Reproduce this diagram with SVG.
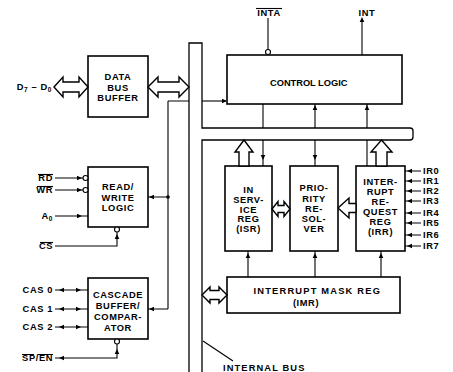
<svg xmlns="http://www.w3.org/2000/svg" width="453" height="372" viewBox="0 0 453 372">
<style>
.box{fill:#fff;stroke:#000;stroke-width:1.6}
.ln{fill:none;stroke:#000;stroke-width:1.1}
.bus{fill:#fff;stroke:#000;stroke-width:1.3}
.ha{fill:#fff;stroke:#000;stroke-width:1.4;stroke-linejoin:miter}
.bub{fill:#fff;stroke:#000;stroke-width:1.1}
.dot{fill:#000}
.t{font-family:"Liberation Sans",Arial,Helvetica,sans-serif;font-weight:bold;font-size:9.3px;fill:#000;text-anchor:middle;letter-spacing:0.6px}
.r{text-anchor:end}
.s{text-anchor:start}
.sub{font-size:6.5px}
</style>
<defs>
<path id="ah" d="M0,0 L-5,-2.3 L-5,2.3 Z" fill="#000"/>
</defs>
<rect width="453" height="372" fill="#fff"/>

<g id="internal-bus">
<path class="bus" d="M189,372 L189,43 L202,43 L202,128 L410,128 Q413,128 413,131 L413,137 Q413,140 410,140 L202,140 L202,372"/>
</g>

<g id="data-bus-buffer">
<rect class="box" x="88" y="56" width="60" height="61"/>
<text class="t" x="118" y="79.5">DATA</text>
<text class="t" x="118" y="90.5">BUS</text>
<text class="t" x="118" y="100.5">BUFFER</text>
</g>

<g id="read-write-logic">
<rect class="box" x="88" y="167" width="60" height="60"/>
<text class="t" x="118" y="189.5">READ/</text>
<text class="t" x="118" y="200.5">WRITE</text>
<text class="t" x="118" y="210.5">LOGIC</text>
</g>

<g id="cascade-buffer-comparator">
<rect class="box" x="88" y="278" width="60" height="61"/>
<text class="t" x="118" y="297.5">CASCADE</text>
<text class="t" x="118" y="308.5">BUFFER/</text>
<text class="t" x="118" y="319.5">COMPAR-</text>
<text class="t" x="118" y="330.5">ATOR</text>
</g>

<g id="control-logic">
<rect class="box" x="227" y="55" width="175" height="49"/>
<text class="t" x="309" y="85.5" textLength="78">CONTROL LOGIC</text>
</g>

<g id="in-service-reg">
<rect class="box" x="225" y="166" width="47" height="85"/>
<text class="t" x="248.5" y="193.3">IN</text>
<text class="t" x="248.5" y="203.3">SERV-</text>
<text class="t" x="248.5" y="213.3">ICE</text>
<text class="t" x="248.5" y="222.3">REG</text>
<text class="t" x="248.5" y="231.6">(ISR)</text>
</g>

<g id="priority-resolver">
<rect class="box" x="290" y="166" width="48" height="85"/>
<text class="t" x="314" y="191.3">PRIO-</text>
<text class="t" x="314" y="202.3">RITY</text>
<text class="t" x="314" y="212.3">RE-</text>
<text class="t" x="314" y="222.3">SOL-</text>
<text class="t" x="314" y="232.3">VER</text>
</g>

<g id="interrupt-request-reg">
<rect class="box" x="356" y="166" width="49" height="85"/>
<text class="t" x="380.5" y="185">INTER-</text>
<text class="t" x="380.5" y="195">RUPT</text>
<text class="t" x="380.5" y="205">RE-</text>
<text class="t" x="380.5" y="215">QUEST</text>
<text class="t" x="380.5" y="225">REG</text>
<text class="t" x="380.5" y="234.5">(IRR)</text>
</g>

<g id="interrupt-mask-reg">
<rect class="box" x="227" y="277" width="173" height="36"/>
<text class="t" x="317" y="293.5" textLength="127">INTERRUPT MASK REG</text>
<text class="t" x="306" y="305.5">(IMR)</text>
</g>

<g id="connectors">
<path class="ha" d="M54,87 L63,77 L63,82 L79,82 L79,77 L88,87 L79,97 L79,92 L63,92 L63,97 Z"/>
<path class="ha" d="M148,87 L158,77 L158,82 L179,82 L179,77 L189,87 L179,97 L179,92 L158,92 L158,97 Z"/>
<path class="ha" d="M272,209 L278,201.5 L278,205.5 L284,205.5 L284,201.5 L290,209 L284,216.5 L284,212.5 L278,212.5 L278,216.5 Z"/>
<path class="ha" d="M338,208 L349,198 L349,203.5 L356,203.5 L356,212.5 L349,212.5 L349,218 Z"/>
<path class="ha" d="M202,295 L210,287 L210,290.5 L219,290.5 L219,287 L227,295 L219,303 L219,299.5 L210,299.5 L210,303 Z"/>
<path class="ha" d="M244,140 L253,152 L249,152 L249,166 L239,166 L239,152 L235,152 Z"/>
<path class="ha" d="M381.5,140 L392,152 L387,152 L387,166 L376,166 L376,152 L371,152 Z"/>

<path class="ln" d="M268,18 V49.5"/>
<circle class="bub" cx="268" cy="52" r="2.5"/>
<path class="ln" d="M362,55 V19"/>
<use href="#ah" transform="translate(362,17) rotate(-90)"/>

<path class="ln" d="M202,101 H226"/>
<use href="#ah" transform="translate(227,101)"/>
<path class="ln" d="M168,101 H189 M168,101 V309"/>
<path class="ln" d="M148,197 H168 M148,309 H168"/>
<circle class="dot" cx="168" cy="197" r="1.8"/>
<use href="#ah" transform="translate(149,197) rotate(180)"/>
<use href="#ah" transform="translate(149,309) rotate(180)"/>

<path class="ln" d="M263,104 V128 M315,104 V128 M367,104 V128"/>
<use href="#ah" transform="translate(315,105) rotate(-90)"/>
<use href="#ah" transform="translate(367,105) rotate(-90)"/>
<path class="ln" d="M263,140 V166 M315,140 V166 M367,140 V166"/>
<use href="#ah" transform="translate(263,160) rotate(90)"/>
<use href="#ah" transform="translate(315,160) rotate(90)"/>

<path class="ln" d="M248,277 V251 M315,277 V251 M381,277 V251"/>
<use href="#ah" transform="translate(248,253) rotate(-90)"/>
<use href="#ah" transform="translate(315,253) rotate(-90)"/>
<use href="#ah" transform="translate(381,253) rotate(-90)"/>

<path class="ln" d="M405,171 H421 M405,181 H421 M405,191 H421 M405,201 H421 M405,213 H421 M405,223 H421 M405,235 H421 M405,246 H421"/>
<use href="#ah" transform="translate(407,171) rotate(180)"/>
<use href="#ah" transform="translate(407,181) rotate(180)"/>
<use href="#ah" transform="translate(407,191) rotate(180)"/>
<use href="#ah" transform="translate(407,201) rotate(180)"/>
<use href="#ah" transform="translate(407,213) rotate(180)"/>
<use href="#ah" transform="translate(407,223) rotate(180)"/>
<use href="#ah" transform="translate(407,235) rotate(180)"/>
<use href="#ah" transform="translate(407,246) rotate(180)"/>

<path class="ln" d="M55,178 H83 M55,190 H83 M55,216 H88"/>
<circle class="bub" cx="85.5" cy="178" r="2.5"/>
<circle class="bub" cx="85.5" cy="190" r="2.5"/>
<use href="#ah" transform="translate(82,178)"/>
<use href="#ah" transform="translate(82,190)"/>
<use href="#ah" transform="translate(82,216)"/>
<path class="ln" d="M55,246 H117 V232"/>
<circle class="bub" cx="117" cy="229.5" r="2.5"/>
<use href="#ah" transform="translate(117,234) rotate(-90)"/>

<path class="ln" d="M55,290 H88 M55,309 H88 M55,327 H88"/>
<use href="#ah" transform="translate(59,290) rotate(180)"/>
<use href="#ah" transform="translate(81,290)"/>
<use href="#ah" transform="translate(59,309) rotate(180)"/>
<use href="#ah" transform="translate(81,309)"/>
<use href="#ah" transform="translate(59,327) rotate(180)"/>
<use href="#ah" transform="translate(81,327)"/>
<path class="ln" d="M55,358 H117 V344"/>
<circle class="bub" cx="117" cy="341.5" r="2.5"/>
<use href="#ah" transform="translate(59,358) rotate(180)"/>
<use href="#ah" transform="translate(117,349) rotate(-90)"/>

<path class="ln" d="M203,341 L233,361"/>
</g>

<g id="pin-labels">
<text class="t r" x="52" y="90">D<tspan class="sub" dy="2">7</tspan><tspan dy="-2"> – D</tspan><tspan class="sub" dy="2">0</tspan></text>
<text class="t r" x="53" y="181">RD</text>
<path class="ln" d="M38,174.5 H53"/>
<text class="t r" x="53" y="193">WR</text>
<path class="ln" d="M37,186.5 H53"/>
<text class="t r" x="53" y="219">A<tspan class="sub" dy="2">0</tspan></text>
<text class="t r" x="53" y="249">CS</text>
<path class="ln" d="M40,242.5 H53"/>
<text class="t r" x="53" y="293">CAS 0</text>
<text class="t r" x="53" y="312">CAS 1</text>
<text class="t r" x="53" y="330">CAS 2</text>
<text class="t r" x="53" y="361">SP/EN</text>
<path class="ln" d="M22,354.5 H34 M38,354.5 H53"/>
<text class="t" x="269" y="15.5">INTA</text>
<path class="ln" d="M256,8.5 H282"/>
<text class="t" x="367" y="15.5">INT</text>
<text class="t s" x="423" y="174.3">IR0</text>
<text class="t s" x="423" y="184.3">IR1</text>
<text class="t s" x="423" y="194.3">IR2</text>
<text class="t s" x="423" y="204.3">IR3</text>
<text class="t s" x="423" y="216.3">IR4</text>
<text class="t s" x="423" y="226.3">IR5</text>
<text class="t s" x="423" y="238.3">IR6</text>
<text class="t s" x="423" y="249.3">IR7</text>
<text class="t s" x="223" y="370.5" textLength="82">INTERNAL BUS</text>
</g>
</svg>
